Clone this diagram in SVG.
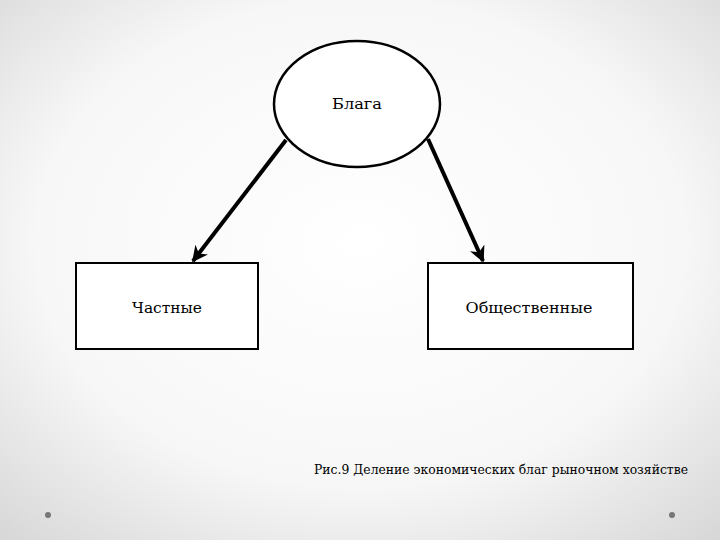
<svg xmlns="http://www.w3.org/2000/svg" width="720" height="540" viewBox="0 0 720 540">
<defs>
<radialGradient id="bg" cx="50%" cy="45%" r="75%">
<stop offset="0" stop-color="#ffffff"/>
<stop offset="0.6" stop-color="#f7f7f7"/>
<stop offset="1" stop-color="#d6d6d6"/>
</radialGradient>
<marker id="arr" viewBox="0 0 10 10" refX="9" refY="5" markerWidth="4" markerHeight="4" orient="auto" markerUnits="strokeWidth">
<path d="M0,0 L10,5 L0,10 L3,5 Z" fill="#000"/>
</marker>
<style>
.lbl{font-family:"DejaVu Serif",serif;font-size:15px;fill:#000;text-anchor:middle}
.cap{font-family:"DejaVu Serif",serif;font-size:13px;fill:#000}
.box{fill:#fff;stroke:#000;stroke-width:2}
.con{stroke:#000;stroke-width:4;fill:none;marker-end:url(#arr)}
</style>
</defs>
<rect width="720" height="540" fill="url(#bg)"/>
<circle cx="48" cy="515" r="3" fill="#777"/>
<circle cx="672" cy="515" r="3" fill="#777"/>
<g id="connectors">
<line class="con" x1="286" y1="140" x2="193" y2="261"/>
<line class="con" x1="428" y1="139" x2="483" y2="261"/>
</g>
<g id="node-blaga">
<ellipse cx="357" cy="104" rx="83" ry="63" fill="#fff" stroke="#000" stroke-width="2.5"/>
<text class="lbl" x="357" y="109" textLength="50" lengthAdjust="spacingAndGlyphs">Блага</text>
</g>
<g id="node-chastnye">
<rect class="box" x="76" y="263" width="182" height="86"/>
<text class="lbl" x="167" y="313" textLength="70" lengthAdjust="spacingAndGlyphs">Частные</text>
</g>
<g id="node-obshchestvennye">
<rect class="box" x="428" y="263" width="205" height="86"/>
<text class="lbl" x="529" y="313" textLength="127" lengthAdjust="spacingAndGlyphs">Общественные</text>
</g>
<text class="cap" x="314" y="474" textLength="374" lengthAdjust="spacingAndGlyphs">Рис.9 Деление экономических благ  рыночном хозяйстве</text>
</svg>
